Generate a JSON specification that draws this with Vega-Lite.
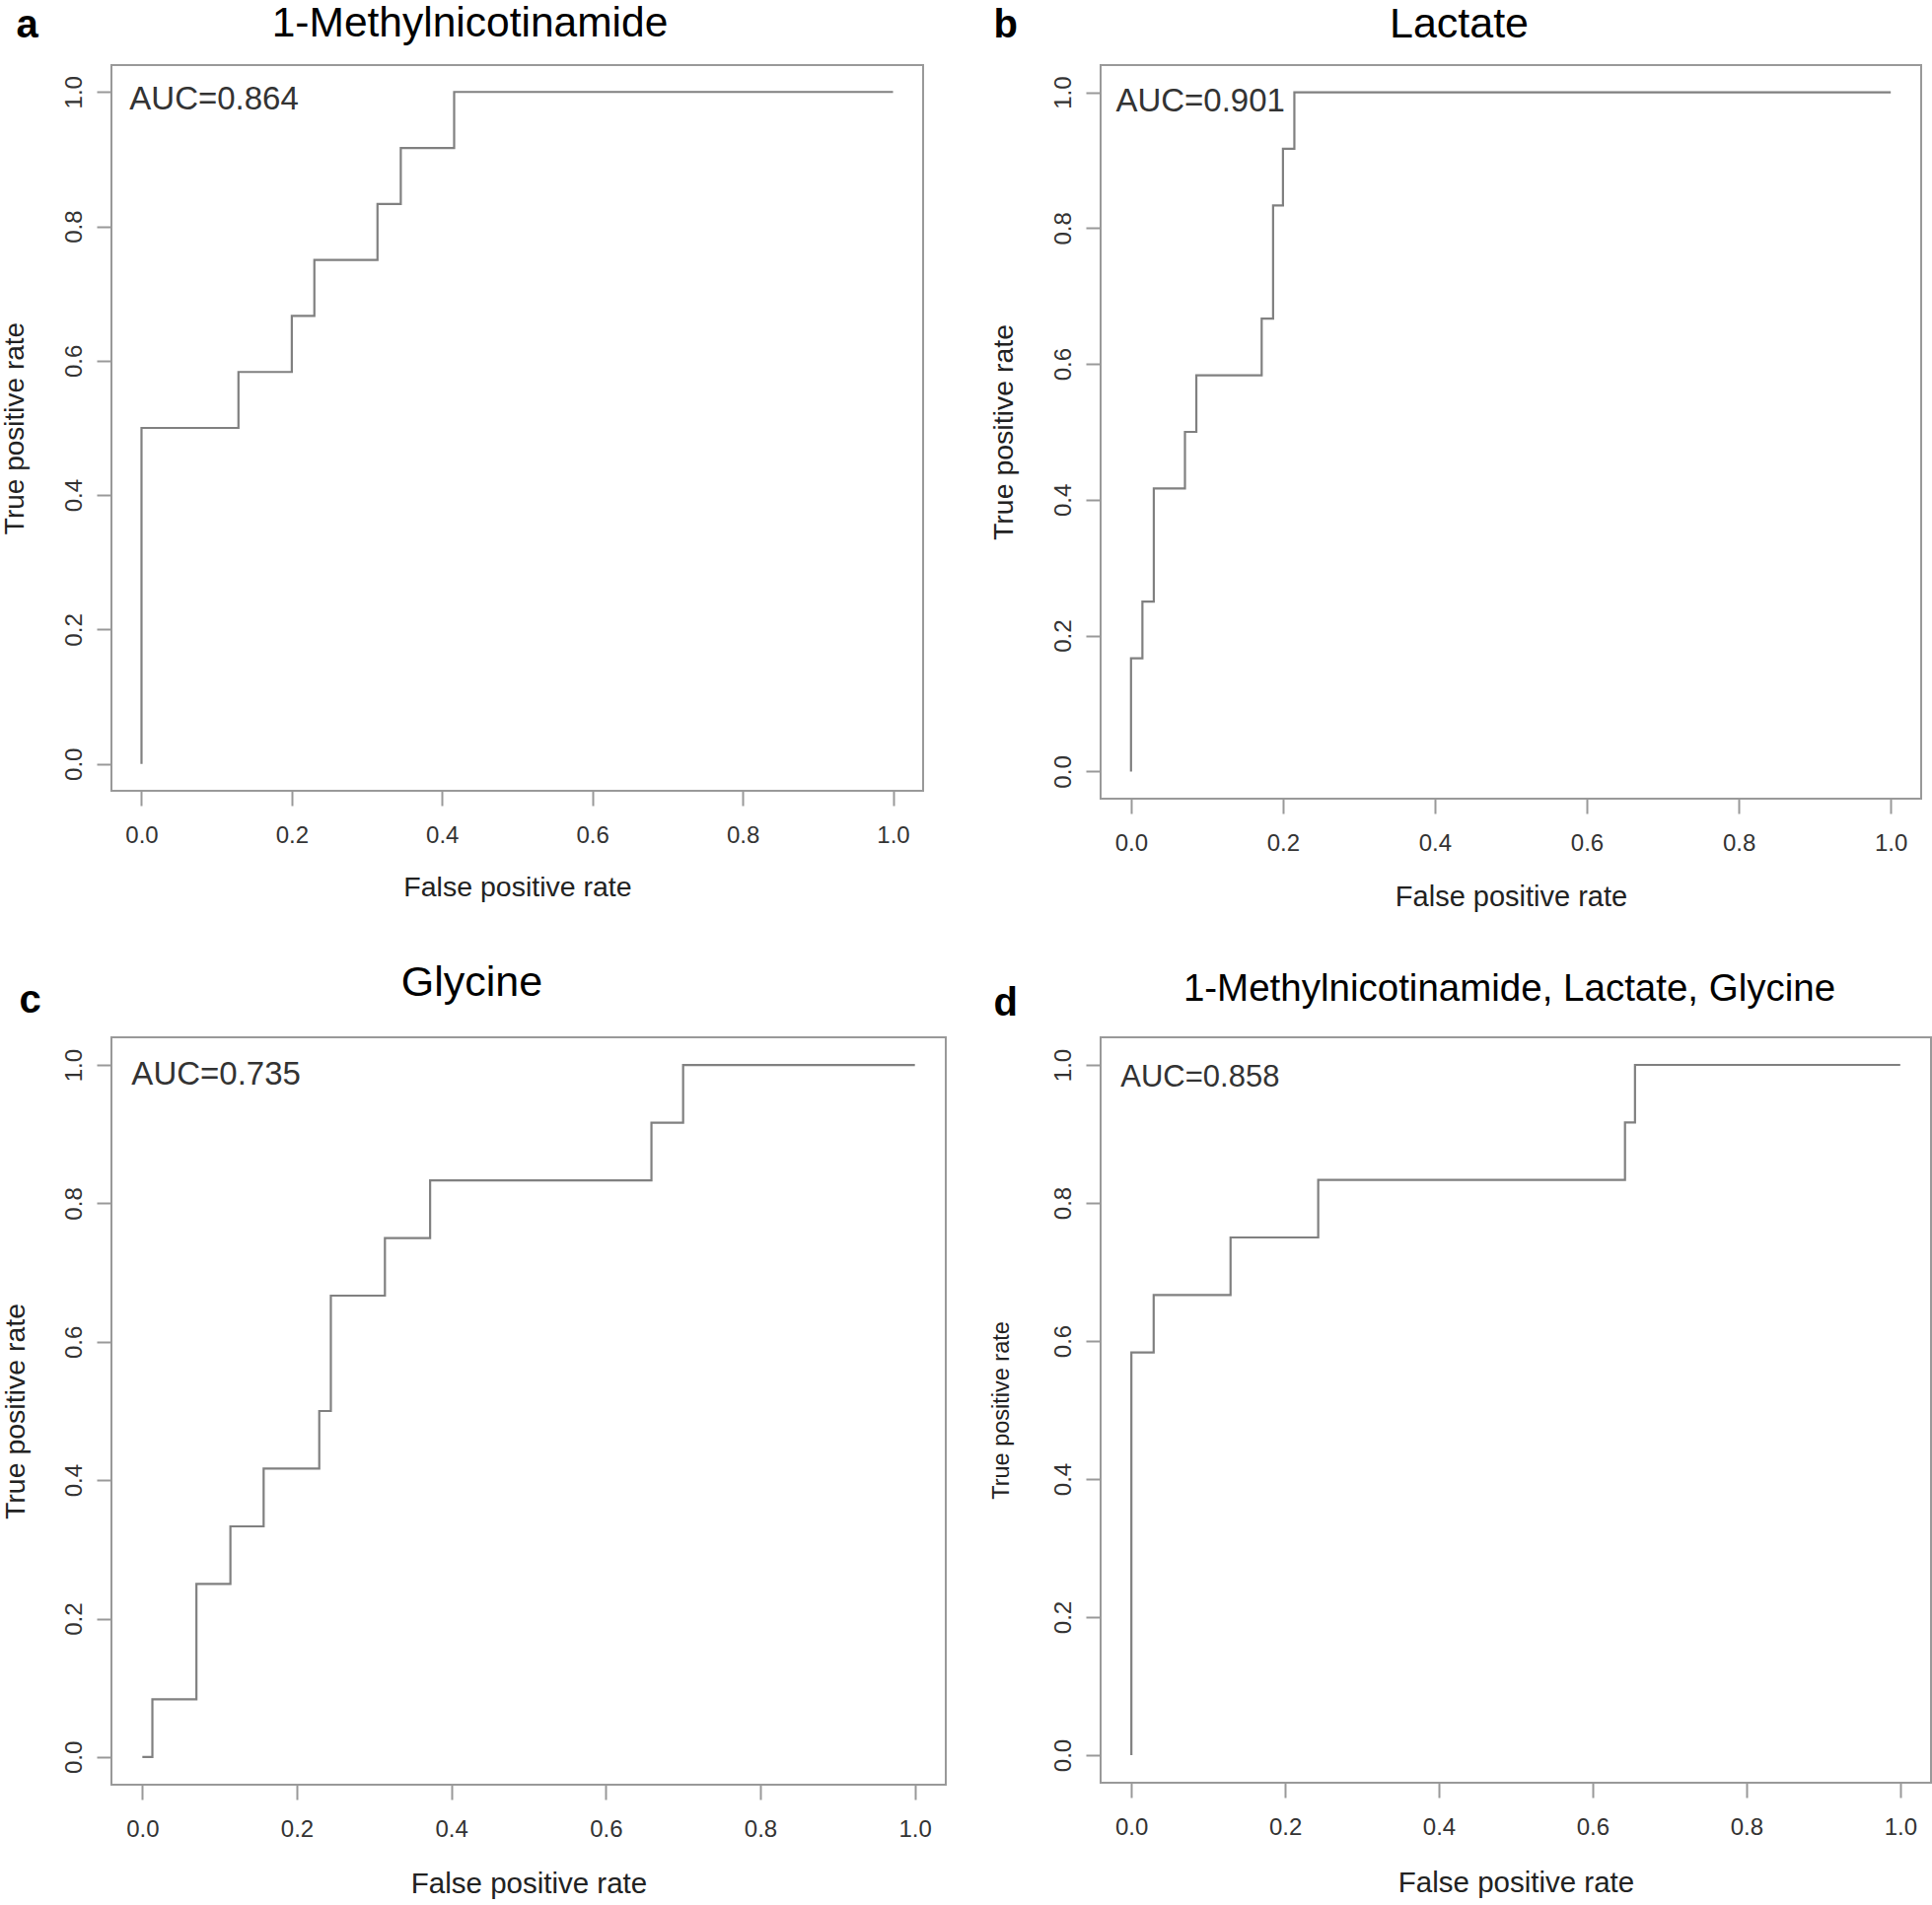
{
  "$schema": "https://vega.github.io/schema/vega-lite/v6.json",
  "background": "white",
  "padding": {"left": 0, "top": 1, "right": 0, "bottom": 0},
  "config": {
    "font": "Liberation Sans",
    "view": {"stroke": "#999999", "strokeWidth": 2},
    "axis": {
      "domain": false, "grid": false, "ticks": true, "tickSize": 15, "tickColor": "#999999", "tickWidth": 2,
      "labelColor": "#333333", "labelFont": "Liberation Sans", "titleFont": "Liberation Sans",
      "titleColor": "#222222", "titleFontWeight": "normal", "labelFlush": false, "labelOverlap": false
    },
    "text": {"font": "Liberation Sans"}
  },
  "datasets": {
    "roc_a": [
      {"i": 0, "fpr": 0, "tpr": 0}, {"i": 1, "fpr": 0, "tpr": 0.5}, {"i": 2, "fpr": 0.129, "tpr": 0.5},
      {"i": 3, "fpr": 0.129, "tpr": 0.5833}, {"i": 4, "fpr": 0.2, "tpr": 0.5833}, {"i": 5, "fpr": 0.2, "tpr": 0.6667},
      {"i": 6, "fpr": 0.23, "tpr": 0.6667}, {"i": 7, "fpr": 0.23, "tpr": 0.75}, {"i": 8, "fpr": 0.314, "tpr": 0.75},
      {"i": 9, "fpr": 0.314, "tpr": 0.8333}, {"i": 10, "fpr": 0.345, "tpr": 0.8333}, {"i": 11, "fpr": 0.345, "tpr": 0.9167},
      {"i": 12, "fpr": 0.416, "tpr": 0.9167}, {"i": 13, "fpr": 0.416, "tpr": 1}, {"i": 14, "fpr": 1, "tpr": 1}
    ],
    "roc_b": [
      {"i": 0, "fpr": 0, "tpr": 0}, {"i": 1, "fpr": 0, "tpr": 0.1667}, {"i": 2, "fpr": 0.015, "tpr": 0.1667},
      {"i": 3, "fpr": 0.015, "tpr": 0.25}, {"i": 4, "fpr": 0.03, "tpr": 0.25}, {"i": 5, "fpr": 0.03, "tpr": 0.4167},
      {"i": 6, "fpr": 0.071, "tpr": 0.4167}, {"i": 7, "fpr": 0.071, "tpr": 0.5}, {"i": 8, "fpr": 0.086, "tpr": 0.5},
      {"i": 9, "fpr": 0.086, "tpr": 0.5833}, {"i": 10, "fpr": 0.172, "tpr": 0.5833}, {"i": 11, "fpr": 0.172, "tpr": 0.6667},
      {"i": 12, "fpr": 0.187, "tpr": 0.6667}, {"i": 13, "fpr": 0.187, "tpr": 0.8333}, {"i": 14, "fpr": 0.2, "tpr": 0.8333},
      {"i": 15, "fpr": 0.2, "tpr": 0.9167}, {"i": 16, "fpr": 0.215, "tpr": 0.9167}, {"i": 17, "fpr": 0.215, "tpr": 1},
      {"i": 18, "fpr": 1, "tpr": 1}
    ],
    "roc_c": [
      {"i": 0, "fpr": 0, "tpr": 0}, {"i": 1, "fpr": 0.013, "tpr": 0}, {"i": 2, "fpr": 0.013, "tpr": 0.0833},
      {"i": 3, "fpr": 0.07, "tpr": 0.0833}, {"i": 4, "fpr": 0.07, "tpr": 0.25}, {"i": 5, "fpr": 0.114, "tpr": 0.25},
      {"i": 6, "fpr": 0.114, "tpr": 0.3333}, {"i": 7, "fpr": 0.157, "tpr": 0.3333}, {"i": 8, "fpr": 0.157, "tpr": 0.4167},
      {"i": 9, "fpr": 0.229, "tpr": 0.4167}, {"i": 10, "fpr": 0.229, "tpr": 0.5}, {"i": 11, "fpr": 0.244, "tpr": 0.5},
      {"i": 12, "fpr": 0.244, "tpr": 0.6667}, {"i": 13, "fpr": 0.314, "tpr": 0.6667}, {"i": 14, "fpr": 0.314, "tpr": 0.75},
      {"i": 15, "fpr": 0.3725, "tpr": 0.75}, {"i": 16, "fpr": 0.3725, "tpr": 0.8333}, {"i": 17, "fpr": 0.659, "tpr": 0.8333},
      {"i": 18, "fpr": 0.659, "tpr": 0.9167}, {"i": 19, "fpr": 0.7, "tpr": 0.9167}, {"i": 20, "fpr": 0.7, "tpr": 1},
      {"i": 21, "fpr": 1, "tpr": 1}
    ],
    "roc_d": [
      {"i": 0, "fpr": 0, "tpr": 0}, {"i": 1, "fpr": 0, "tpr": 0.5833}, {"i": 2, "fpr": 0.029, "tpr": 0.5833},
      {"i": 3, "fpr": 0.029, "tpr": 0.6667}, {"i": 4, "fpr": 0.129, "tpr": 0.6667}, {"i": 5, "fpr": 0.129, "tpr": 0.75},
      {"i": 6, "fpr": 0.243, "tpr": 0.75}, {"i": 7, "fpr": 0.243, "tpr": 0.8333}, {"i": 8, "fpr": 0.642, "tpr": 0.8333},
      {"i": 9, "fpr": 0.642, "tpr": 0.9167}, {"i": 10, "fpr": 0.655, "tpr": 0.9167}, {"i": 11, "fpr": 0.655, "tpr": 1},
      {"i": 12, "fpr": 1, "tpr": 1}
    ]
  },
  "columns": 2,
  "bounds": "flush",
  "align": "all",
  "spacing": {"row": 228, "column": 157},
  "concat": [
    {
      "width": 823, "height": 736,
      "layer": [
        {
          "data": {"name": "roc_a"},
          "mark": {"type": "line", "color": "#808080", "strokeWidth": 2.2},
          "encoding": {
            "x": {"field": "fpr", "type": "quantitative", "scale": {"domain": [-0.04, 1.04], "nice": false, "zero": false},
              "axis": {"orient": "bottom", "title": "False positive rate", "values": [0, 0.2, 0.4, 0.6, 0.8, 1], "format": ".1f",
                "labelFontSize": 24, "labelPadding": 18, "titleFontSize": 28.5, "titleY": 106, "titleBaseline": "alphabetic"}},
            "y": {"field": "tpr", "type": "quantitative", "scale": {"domain": [-0.04, 1.04], "nice": false, "zero": false},
              "axis": {"orient": "left", "title": "True positive rate", "values": [0, 0.2, 0.4, 0.6, 0.8, 1], "format": ".1f",
                "labelFontSize": 24, "labelAngle": 270, "labelAlign": "center", "labelBaseline": "alphabetic", "labelPadding": 16,
                "titleFontSize": 28, "titleX": -98, "titleBaseline": "middle"}},
            "order": {"field": "i", "type": "quantitative"}
          }
        },
        {
          "data": {"values": [{"label": "AUC=0.864"}]},
          "mark": {"type": "text", "align": "left", "baseline": "alphabetic", "fontSize": 33, "color": "#333333"},
          "encoding": {
            "x": {"datum": -0.016, "type": "quantitative", "scale": {"domain": [-0.04, 1.04], "nice": false, "zero": false},
              "axis": {"orient": "top", "title": "1-Methylnicotinamide", "labels": false, "ticks": false,
                "titleFontSize": 42.5, "titleColor": "black", "titleX": 363, "titleY": -30, "titleAlign": "center", "titleBaseline": "alphabetic"}},
            "y": {"datum": 0.974, "type": "quantitative", "scale": {"domain": [-0.04, 1.04], "nice": false, "zero": false},
              "axis": {"orient": "right", "title": "a", "labels": false, "ticks": false,
                "titleFontSize": 40, "titleFontWeight": "bold", "titleColor": "black", "titleAngle": 0, "titleX": -920, "titleY": -29, "titleAlign": "left", "titleBaseline": "alphabetic"}},
            "text": {"field": "label"}
          }
        }
      ],
      "resolve": {"axis": {"x": "independent", "y": "independent"}}
    },
    {
      "width": 832, "height": 744,
      "layer": [
        {
          "data": {"name": "roc_b"},
          "mark": {"type": "line", "color": "#808080", "strokeWidth": 2.2},
          "encoding": {
            "x": {"field": "fpr", "type": "quantitative", "scale": {"domain": [-0.04, 1.04], "nice": false, "zero": false},
              "axis": {"orient": "bottom", "title": "False positive rate", "values": [0, 0.2, 0.4, 0.6, 0.8, 1], "format": ".1f",
                "labelFontSize": 24, "labelPadding": 18, "titleFontSize": 29, "titleY": 108, "titleBaseline": "alphabetic"}},
            "y": {"field": "tpr", "type": "quantitative", "scale": {"domain": [-0.04, 1.04], "nice": false, "zero": false},
              "axis": {"orient": "left", "title": "True positive rate", "values": [0, 0.2, 0.4, 0.6, 0.8, 1], "format": ".1f",
                "labelFontSize": 24, "labelAngle": 270, "labelAlign": "center", "labelBaseline": "alphabetic", "labelPadding": 16,
                "titleFontSize": 28.5, "titleX": -99, "titleBaseline": "middle"}},
            "order": {"field": "i", "type": "quantitative"}
          }
        },
        {
          "data": {"values": [{"label": "AUC=0.901"}]},
          "mark": {"type": "text", "align": "left", "baseline": "alphabetic", "fontSize": 33, "color": "#333333"},
          "encoding": {
            "x": {"datum": -0.02, "type": "quantitative", "scale": {"domain": [-0.04, 1.04], "nice": false, "zero": false},
              "axis": {"orient": "top", "title": "Lactate", "labels": false, "ticks": false,
                "titleFontSize": 43, "titleColor": "black", "titleX": 363, "titleY": -29, "titleAlign": "center", "titleBaseline": "alphabetic"}},
            "y": {"datum": 0.972, "type": "quantitative", "scale": {"domain": [-0.04, 1.04], "nice": false, "zero": false},
              "axis": {"orient": "right", "title": "b", "labels": false, "ticks": false,
                "titleFontSize": 40, "titleFontWeight": "bold", "titleColor": "black", "titleAngle": 0, "titleX": -941, "titleY": -29, "titleAlign": "left", "titleBaseline": "alphabetic"}},
            "text": {"field": "label"}
          }
        }
      ],
      "resolve": {"axis": {"x": "independent", "y": "independent"}}
    },
    {
      "width": 846, "height": 758,
      "layer": [
        {
          "data": {"name": "roc_c"},
          "mark": {"type": "line", "color": "#808080", "strokeWidth": 2.2},
          "encoding": {
            "x": {"field": "fpr", "type": "quantitative", "scale": {"domain": [-0.04, 1.04], "nice": false, "zero": false},
              "axis": {"orient": "bottom", "title": "False positive rate", "values": [0, 0.2, 0.4, 0.6, 0.8, 1], "format": ".1f",
                "labelFontSize": 24, "labelPadding": 18, "titleFontSize": 29.5, "titleY": 109, "titleBaseline": "alphabetic"}},
            "y": {"field": "tpr", "type": "quantitative", "scale": {"domain": [-0.04, 1.04], "nice": false, "zero": false},
              "axis": {"orient": "left", "title": "True positive rate", "values": [0, 0.2, 0.4, 0.6, 0.8, 1], "format": ".1f",
                "labelFontSize": 24, "labelAngle": 270, "labelAlign": "center", "labelBaseline": "alphabetic", "labelPadding": 16,
                "titleFontSize": 28.5, "titleX": -98, "titleBaseline": "middle"}},
            "order": {"field": "i", "type": "quantitative"}
          }
        },
        {
          "data": {"values": [{"label": "AUC=0.735"}]},
          "mark": {"type": "text", "align": "left", "baseline": "alphabetic", "fontSize": 33, "color": "#333333"},
          "encoding": {
            "x": {"datum": -0.014, "type": "quantitative", "scale": {"domain": [-0.04, 1.04], "nice": false, "zero": false},
              "axis": {"orient": "top", "title": "Glycine", "labels": false, "ticks": false,
                "titleFontSize": 43, "titleColor": "black", "titleX": 365, "titleY": -43, "titleAlign": "center", "titleBaseline": "alphabetic"}},
            "y": {"datum": 0.971, "type": "quantitative", "scale": {"domain": [-0.04, 1.04], "nice": false, "zero": false},
              "axis": {"orient": "right", "title": "c", "labels": false, "ticks": false,
                "titleFontSize": 40, "titleFontWeight": "bold", "titleColor": "black", "titleAngle": 0, "titleX": -940, "titleY": -26, "titleAlign": "left", "titleBaseline": "alphabetic"}},
            "text": {"field": "label"}
          }
        }
      ],
      "resolve": {"axis": {"x": "independent", "y": "independent"}}
    },
    {
      "width": 842, "height": 756,
      "layer": [
        {
          "data": {"name": "roc_d"},
          "mark": {"type": "line", "color": "#808080", "strokeWidth": 2.2},
          "encoding": {
            "x": {"field": "fpr", "type": "quantitative", "scale": {"domain": [-0.04, 1.04], "nice": false, "zero": false},
              "axis": {"orient": "bottom", "title": "False positive rate", "values": [0, 0.2, 0.4, 0.6, 0.8, 1], "format": ".1f",
                "labelFontSize": 24, "labelPadding": 18, "titleFontSize": 29.5, "titleY": 110, "titleBaseline": "alphabetic"}},
            "y": {"field": "tpr", "type": "quantitative", "scale": {"domain": [-0.04, 1.04], "nice": false, "zero": false},
              "axis": {"orient": "left", "title": "True positive rate", "values": [0, 0.2, 0.4, 0.6, 0.8, 1], "format": ".1f",
                "labelFontSize": 24, "labelAngle": 270, "labelAlign": "center", "labelBaseline": "alphabetic", "labelPadding": 16,
                "titleFontSize": 23.5, "titleX": -101, "titleBaseline": "middle"}},
            "order": {"field": "i", "type": "quantitative"}
          }
        },
        {
          "data": {"values": [{"label": "AUC=0.858"}]},
          "mark": {"type": "text", "align": "left", "baseline": "alphabetic", "fontSize": 31, "color": "#333333"},
          "encoding": {
            "x": {"datum": -0.014, "type": "quantitative", "scale": {"domain": [-0.04, 1.04], "nice": false, "zero": false},
              "axis": {"orient": "top", "title": "1-Methylnicotinamide, Lactate, Glycine", "labels": false, "ticks": false,
                "titleFontSize": 38.5, "titleColor": "black", "titleX": 414, "titleY": -37.5, "titleAlign": "center", "titleBaseline": "alphabetic"}},
            "y": {"datum": 0.969, "type": "quantitative", "scale": {"domain": [-0.04, 1.04], "nice": false, "zero": false},
              "axis": {"orient": "right", "title": "d", "labels": false, "ticks": false,
                "titleFontSize": 40, "titleFontWeight": "bold", "titleColor": "black", "titleAngle": 0, "titleX": -951, "titleY": -23, "titleAlign": "left", "titleBaseline": "alphabetic"}},
            "text": {"field": "label"}
          }
        }
      ],
      "resolve": {"axis": {"x": "independent", "y": "independent"}}
    }
  ]
}
